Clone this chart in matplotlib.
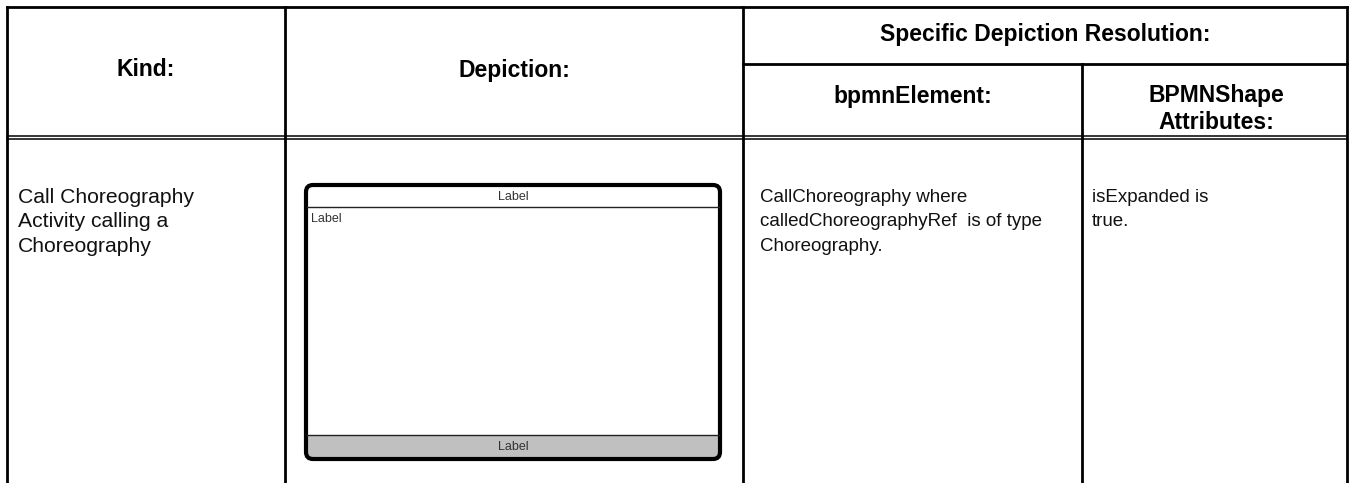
import matplotlib
matplotlib.use("Agg")
import matplotlib.pyplot as plt
from matplotlib.patches import FancyBboxPatch, Rectangle

plt.rcParams['font.family'] = ['Liberation Sans', 'DejaVu Sans']

header_top = ["Specific Depiction Resolution:"]
header_cols = ["Kind:", "Depiction:", "bpmnElement:", "BPMNShape\nAttributes:"]
row_kind = "Call Choreography\nActivity calling a\nChoreography"
row_element = "CallChoreography where\ncalledChoreographyRef  is of type\nChoreography."
row_attrs = "isExpanded is\ntrue."
shape_labels = ["Label", "Label", "Label"]

W, H = 1354, 483
fig = plt.figure(figsize=(W / 100, H / 100), dpi=100)
ax = fig.add_axes([0, 0, 1, 1])
ax.set_xlim(0, W)
ax.set_ylim(H, 0)
ax.axis('off')

xs = [7, 285, 743, 1082, 1347]
y_top, y_mid, y_hb1, y_hb2 = 7, 64, 136, 139
lw = 2.0
k = 'black'
ax.plot([xs[0], xs[-1]], [y_top, y_top], color=k, lw=lw, solid_capstyle='projecting')
ax.plot([xs[2], xs[-1]], [y_mid, y_mid], color=k, lw=lw)
ax.plot([xs[0], xs[-1]], [y_hb1, y_hb1], color=k, lw=1.1)
ax.plot([xs[0], xs[-1]], [y_hb2, y_hb2], color=k, lw=1.1)
for x in [xs[0], xs[1], xs[2], xs[4]]:
    ax.plot([x, x], [y_top, H + 5], color=k, lw=lw, solid_capstyle='projecting')
ax.plot([xs[3], xs[3]], [y_mid, H + 5], color=k, lw=lw)

hfs = 16.5
ax.text((xs[2] + xs[4]) / 2, 34, header_top[0], ha='center', va='center',
        fontsize=hfs, fontweight='bold')
ax.text((xs[0] + xs[1]) / 2, 70, header_cols[0], ha='center', va='center', fontsize=hfs,
        fontweight='bold')
ax.text((xs[1] + xs[2]) / 2, 70, header_cols[1], ha='center', va='center', fontsize=hfs,
        fontweight='bold')
ax.text((xs[2] + xs[3]) / 2, 97, header_cols[2], ha='center', va='center', fontsize=hfs,
        fontweight='bold')
ax.text((xs[3] + xs[4]) / 2 + 2, 109, header_cols[3], ha='center', va='center', fontsize=hfs,
        fontweight='bold', linespacing=1.22)

ax.text(18, 188, row_kind, ha='left', va='top', fontsize=15.2, linespacing=1.36, color='#111111')
ax.text(760, 189, row_element, ha='left', va='top', fontsize=13.5, linespacing=1.56, color='#111111')
ax.text(1092, 189, row_attrs, ha='left', va='top', fontsize=13.5, linespacing=1.56, color='#111111')

# depiction shape
x0, x1, y0, y1 = 306, 720, 185, 459
r = 7
ax.add_patch(Rectangle((x0 + 2, y1 - 24), x1 - x0 - 4, 22, facecolor='#c0c0c0', edgecolor='none'))
ax.add_patch(FancyBboxPatch((x0, y0), x1 - x0, y1 - y0, boxstyle=f"round,pad=0,rounding_size={r}",
                            facecolor='none', edgecolor='black', lw=3))
ax.plot([x0 + 1, x1 - 1], [207, 207], color='#222222', lw=1.0)
ax.plot([x0 + 1, x1 - 1], [y1 - 24, y1 - 24], color='#222222', lw=1.0)
sfs = 9
ax.text((x0 + x1) / 2, 196.5, shape_labels[0], ha='center', va='center', fontsize=sfs, color='#333333')
ax.text(x0 + 5, 219, shape_labels[1], ha='left', va='center', fontsize=sfs, color='#333333')
ax.text((x0 + x1) / 2, y1 - 12.5, shape_labels[2], ha='center', va='center', fontsize=sfs, color='#333333')

fig.savefig("out.png", dpi=100)
